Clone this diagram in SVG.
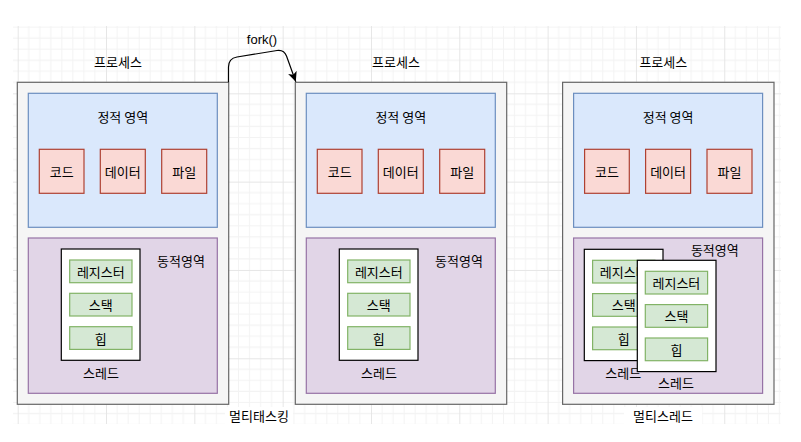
<svg xmlns="http://www.w3.org/2000/svg" width="801" height="442" viewBox="0 0 801 442">
<style>
text{font-family:"Noto Sans CJK KR","Liberation Sans",sans-serif;font-size:13px;fill:#000;text-anchor:middle;dominant-baseline:central}
.latin{font-family:"Liberation Sans","Noto Sans CJK KR",sans-serif}
.proc{fill:#f5f5f5;stroke:#666666;stroke-width:1.2}
.stat{fill:#dae8fc;stroke:#6c8ebf;stroke-width:1.2}
.dyn{fill:#e1d5e7;stroke:#9673a6;stroke-width:1.2}
.seg{fill:#fad9d5;stroke:#ae4132;stroke-width:1.2}
.thr{fill:#ffffff;stroke:#000000;stroke-width:1.2}
.mem{fill:#d5e8d4;stroke:#82b366;stroke-width:1.2}
.edge{fill:none;stroke:#000;stroke-width:1.2}
</style>
<defs>
<pattern id="grid" x="17.7" y="5" width="88.32" height="88.32" patternUnits="userSpaceOnUse">
<path d="M11.04,0V88.32M22.08,0V88.32M33.12,0V88.32M44.16,0V88.32M55.2,0V88.32M66.24,0V88.32M77.28,0V88.32M0,11.04H88.32M0,22.08H88.32M0,33.12H88.32M0,44.16H88.32M0,55.2H88.32M0,66.24H88.32M0,77.28H88.32" fill="none" stroke="#f3f3f3" stroke-width="1"/>
<path d="M0.5,0V88.32M0,0.5H88.32" fill="none" stroke="#e6e6e6" stroke-width="1"/>
</pattern>
<marker id="arrow" viewBox="0 0 10 10" refX="10" refY="5" markerWidth="10" markerHeight="10" markerUnits="userSpaceOnUse" orient="auto">
<path d="M0,0.5 L10,5 L0,9.5 L2.5,5 Z" fill="#000"/>
</marker>
</defs>
<rect width="801" height="442" fill="#ffffff"/>
<rect x="13" y="26" width="768" height="398" fill="url(#grid)"/>

<g id="process1">
<g id="p1-box"><rect class="proc" x="17.3" y="82.3" width="211.4" height="322"/><text x="118" y="61">프로세스</text></g>
<g id="p1-static"><rect class="stat" x="28.3" y="93.3" width="189" height="134"/><text x="122.8" y="116">정적 영역</text></g>
<g id="p1-code"><rect class="seg" x="39.3" y="149.3" width="44.7" height="44"/><text x="61.7" y="171.3">코드</text></g>
<g id="p1-data"><rect class="seg" x="100.3" y="149.3" width="45" height="44"/><text x="122.8" y="171.3">데이터</text></g>
<g id="p1-file"><rect class="seg" x="161.7" y="149.3" width="45" height="44"/><text x="184.2" y="171.3">파일</text></g>
<g id="p1-dynamic"><rect class="dyn" x="28.3" y="238" width="189" height="155.3"/><text x="181" y="260.5">동적영역</text></g>
<g id="p1-thread"><rect class="thr" x="61.3" y="249" width="78.7" height="111.3"/><text x="101" y="372">스레드</text></g>
<g id="p1-reg"><rect class="mem" x="69.7" y="260" width="62.3" height="22.7"/><text x="100.8" y="271.3">레지스터</text></g>
<g id="p1-stack"><rect class="mem" x="69.7" y="293.3" width="62.3" height="22.7"/><text x="100.8" y="304.6">스택</text></g>
<g id="p1-heap"><rect class="mem" x="69.7" y="326.7" width="62.3" height="22.7"/><text x="100.8" y="338">힙</text></g>
</g>

<g id="process2" transform="translate(278,0)">
<g id="p2-box"><rect class="proc" x="17.3" y="82.3" width="211.4" height="322"/><text x="118" y="61">프로세스</text></g>
<g id="p2-static"><rect class="stat" x="28.3" y="93.3" width="189" height="134"/><text x="122.8" y="116">정적 영역</text></g>
<g id="p2-code"><rect class="seg" x="39.3" y="149.3" width="44.7" height="44"/><text x="61.7" y="171.3">코드</text></g>
<g id="p2-data"><rect class="seg" x="100.3" y="149.3" width="45" height="44"/><text x="122.8" y="171.3">데이터</text></g>
<g id="p2-file"><rect class="seg" x="161.7" y="149.3" width="45" height="44"/><text x="184.2" y="171.3">파일</text></g>
<g id="p2-dynamic"><rect class="dyn" x="28.3" y="238" width="189" height="155.3"/><text x="181" y="260.5">동적영역</text></g>
<g id="p2-thread"><rect class="thr" x="61.3" y="249" width="78.7" height="111.3"/><text x="101" y="372">스레드</text></g>
<g id="p2-reg"><rect class="mem" x="69.7" y="260" width="62.3" height="22.7"/><text x="100.8" y="271.3">레지스터</text></g>
<g id="p2-stack"><rect class="mem" x="69.7" y="293.3" width="62.3" height="22.7"/><text x="100.8" y="304.6">스택</text></g>
<g id="p2-heap"><rect class="mem" x="69.7" y="326.7" width="62.3" height="22.7"/><text x="100.8" y="338">힙</text></g>
</g>

<g id="process3" transform="translate(545.3,0)">
<g id="p3-box"><rect class="proc" x="17.3" y="82.3" width="211.4" height="322"/><text x="118" y="61">프로세스</text></g>
<g id="p3-static"><rect class="stat" x="28.3" y="93.3" width="189" height="134"/><text x="122.8" y="116">정적 영역</text></g>
<g id="p3-code"><rect class="seg" x="39.3" y="149.3" width="44.7" height="44"/><text x="61.7" y="171.3">코드</text></g>
<g id="p3-data"><rect class="seg" x="100.3" y="149.3" width="45" height="44"/><text x="122.8" y="171.3">데이터</text></g>
<g id="p3-file"><rect class="seg" x="161.7" y="149.3" width="45" height="44"/><text x="184.2" y="171.3">파일</text></g>
<g id="p3-dynamic"><rect class="dyn" x="28.3" y="238" width="189" height="155.3"/><text x="169.5" y="249.3">동적영역</text></g>
<g id="p3-thread1"><rect class="thr" x="39" y="249.3" width="78.7" height="111.3"/><text x="78" y="372.7">스레드</text>
<g id="p3-t1-reg"><rect class="mem" x="47.3" y="260.3" width="62.3" height="22.7"/><text x="78.4" y="271.6">레지스터</text></g>
<g id="p3-t1-stack"><rect class="mem" x="47.3" y="293.6" width="62.3" height="22.7"/><text x="78.4" y="304.9">스택</text></g>
<g id="p3-t1-heap"><rect class="mem" x="47.3" y="327" width="62.3" height="22.7"/><text x="78.4" y="338.3">힙</text></g>
</g>
<g id="p3-thread2"><rect class="thr" x="92" y="260.3" width="78.7" height="111.3"/><text x="130.7" y="382.7">스레드</text>
<g id="p3-t2-reg"><rect class="mem" x="100" y="271.3" width="62.3" height="22.7"/><text x="131.1" y="282.6">레지스터</text></g>
<g id="p3-t2-stack"><rect class="mem" x="100" y="304.6" width="62.3" height="22.7"/><text x="131.1" y="315.9">스택</text></g>
<g id="p3-t2-heap"><rect class="mem" x="100" y="338" width="62.3" height="22.7"/><text x="131.1" y="349.3">힙</text></g>
</g>
</g>

<g id="label-multitasking"><rect x="225" y="407" width="68" height="17" fill="#fff"/><text x="259" y="415.5">멀티태스킹</text></g>
<g id="label-multithread"><rect x="624" y="407" width="78" height="17" fill="#fff"/><text x="663" y="415.5">멀티스레드</text></g>

<g id="connectors">
<path class="edge" d="M228.5,82.3 L228.5,67 Q228.5,58.5 237,57 L277,50.5 Q284,49.5 286.5,56 L295.8,81.8" marker-end="url(#arrow)"/>
<text class="latin" x="262" y="39">fork()</text>
</g>
</svg>
